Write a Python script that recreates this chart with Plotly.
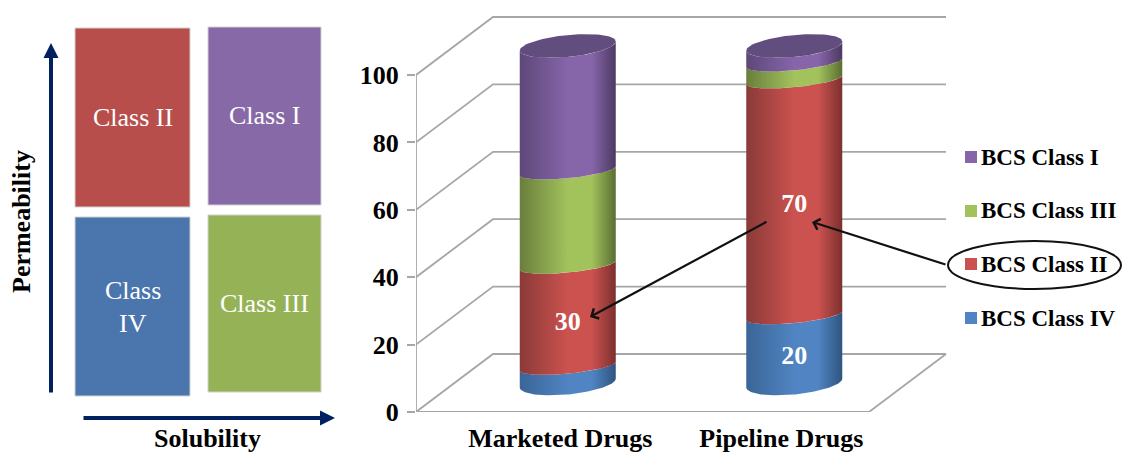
import numpy as np
import plotly.graph_objects as go

W, H = 1122, 453
SERIF = "Liberation Serif"

# Stacked share of each BCS class, bottom to top
categories = ["Marketed Drugs", "Pipeline Drugs"]
class_iv = [5, 20]
class_ii = [30, 70]
class_iii = [28, 5]
class_i = [37, 5]
y_ticks = [0, 20, 40, 60, 80, 100]

series = [
    ("BCS Class IV", class_iv, ["#3a6597", "#5084c2", "#2f5580"], [None, "20"]),
    ("BCS Class II", class_ii, ["#8a3a38", "#cb524f", "#7c302e"], ["30", "70"]),
    ("BCS Class III", class_iii, ["#697e3c", "#a2c25c", "#5a6e33"], [None, None]),
    ("BCS Class I", class_i, ["#5d4878", "#8665a9", "#4c3a62"], [None, None]),
]
legend_order = ["BCS Class I", "BCS Class III", "BCS Class II", "BCS Class IV"]
legend_rows = [157, 211, 264, 318]

# Pixel frame of the front plane of the chart
FRONT_LEFT, FLOOR_Y = 416, 412
X_UNIT, Y_UNIT = 226.5, 3.37
x_top = -0.5 + (W - FRONT_LEFT) / X_UNIT
y_top = FLOOR_Y / Y_UNIT

# Depth of the box and the cylinder ellipses, in axis units
DEPTH_X, DEPTH_Y = 77 / X_UNIT, 58 / Y_UNIT
RX, TILT = 48 / X_UNIT, 4.5 / Y_UNIT
RY_OUTER, RY_INNER, RY_BASE = 11 / Y_UNIT, 7.5 / Y_UNIT, 11.5 / Y_UNIT
LABEL_DROP = 8 / Y_UNIT


def px(x, y):
    return x / W, 1 - y / H


def arc(cx, cy, t0, t1, ry, n=60):
    t = np.linspace(t0, t1, n)
    return cx + RX * np.cos(t), cy + TILT * np.cos(t) + ry * np.sin(t)


fig = go.Figure()

# Box floor and gridlines on the side and back walls
wall_x, wall_y = [], []
for v in y_ticks:
    wall_x += [-0.5, -0.5 + DEPTH_X, 1.5 + DEPTH_X, None]
    wall_y += [v, v + DEPTH_Y, v + DEPTH_Y, None]
wall_x += [-0.5, -0.5, None, -0.5, 1.5, 1.5 + DEPTH_X]
wall_y += [0, 100, None, 0, 0, DEPTH_Y]
fig.add_trace(go.Scatter(x=wall_x, y=wall_y, mode="lines", hoverinfo="skip", showlegend=False,
                         line=dict(color="#a6a6a6", width=1.8)))

# Stacked cylinders: each segment is closed by two front arcs
for i, name in enumerate(categories):
    cx = i + DEPTH_X / 2
    base = DEPTH_Y / 2
    level = 0
    for label, values, shades, notes in series:
        lower, upper = level, level + values[i]
        xa, ya = arc(cx, base + lower, np.pi, 2 * np.pi, RY_BASE if lower == 0 else RY_INNER)
        xb, yb = arc(cx, base + upper, 2 * np.pi, np.pi, RY_OUTER if upper >= 100 else RY_INNER)
        fig.add_trace(go.Scatter(
            x=np.r_[xa, xb], y=np.r_[ya, yb], mode="lines", fill="toself", name=label,
            line=dict(width=0), showlegend=False, hoverinfo="name",
            fillgradient=dict(type="horizontal", colorscale=[
                [0, shades[0]], [0.5, shades[1]], [0.75, shades[1]], [1, shades[2]]]),
        ))
        level = upper
    xc, yc = arc(cx, base + level, 0, 2 * np.pi, RY_OUTER, 90)
    fig.add_trace(go.Scatter(x=xc, y=yc, mode="lines", fill="toself", line=dict(width=0),
                             fillcolor="#624d7f", hoverinfo="skip", showlegend=False))

# Value labels sit on the front face of their segment
label_x, label_y, label_text = [], [], []
for i in range(len(categories)):
    level = 0
    for label, values, shades, notes in series:
        if notes[i]:
            label_x.append(i + DEPTH_X / 2)
            label_y.append(DEPTH_Y / 2 + level + values[i] / 2 - LABEL_DROP)
            label_text.append(notes[i])
        level += values[i]
fig.add_trace(go.Scatter(x=label_x, y=label_y, text=label_text, mode="text", hoverinfo="skip",
                         showlegend=False, textfont=dict(family=SERIF, size=26, color="white", weight="bold")))

shapes, notes_layer = [], []


def text(x, y, s, size=26, color="black", bold=False, anchor="center", angle=0):
    xp, yp = px(x, y)
    notes_layer.append(dict(
        x=xp, y=yp, xref="paper", yref="paper", text=f"<b>{s}</b>" if bold else s, showarrow=False,
        xanchor=anchor, yanchor="middle", textangle=angle, font=dict(family=SERIF, size=size, color=color)))


def arrow(x0, y0, x1, y1, color, width, head, scale=1.0):
    xb, yb = px(x1, y1)
    notes_layer.append(dict(
        x=xb, y=yb, ax=x0 - x1, ay=y0 - y1, xref="paper", yref="paper", axref="pixel", ayref="pixel", text="",
        showarrow=True, arrowcolor=color, arrowwidth=width, arrowhead=head, arrowsize=scale))


# BCS quadrant diagram on the left
quadrants = [
    (75, 28, 190, 207, "#b84e4b", ["Class II"], [117]),
    (208, 27, 321, 205, "#8869a8", ["Class I"], [116]),
    (75, 217, 190, 396, "#4a76ad", ["Class", "IV"], [290, 323]),
    (208, 215, 321, 392, "#95b356", ["Class III"], [303]),
]
for x0, y0, x1, y1, color, lines, rows in quadrants:
    xa, ya = px(x0, y1)
    xb, yb = px(x1, y0)
    shapes.append(dict(type="rect", xref="paper", yref="paper", x0=xa, y0=ya, x1=xb, y1=yb,
                       fillcolor=color, line=dict(color="#d0d0d0", width=1)))
    for line, row in zip(lines, rows):
        text((x0 + x1) / 2, row, line, color="white")

arrow(51, 394, 51, 43, "#002060", 4, 2, 0.75)
arrow(82, 418, 335, 418, "#002060", 4, 2, 0.75)
text(21, 222, "Permeability", bold=True, angle=-90)
text(207, 438, "Solubility", bold=True)

# Legend, with the Class II row ringed
colors = {label: shades[1] for label, _, shades, _ in series}
for label, row in zip(legend_order, legend_rows):
    xa, ya = px(965, row + 6)
    xb, yb = px(977, row - 6)
    shapes.append(dict(type="rect", xref="paper", yref="paper", x0=xa, y0=ya, x1=xb, y1=yb,
                       fillcolor=colors[label], line=dict(width=0)))
    text(979, row, label, size=23, bold=True, anchor="left")
xa, ya = px(948, 289)
xb, yb = px(1121, 241)
shapes.append(dict(type="circle", xref="paper", yref="paper", x0=xa, y0=ya, x1=xb, y1=yb,
                   line=dict(color="#111111", width=2)))

# Callouts tying the legend entry to both Class II segments
arrow(768, 221, 590, 317, "#111111", 2.2, 4, 1.0)
arrow(947, 265, 812, 222, "#111111", 2.2, 4, 1.0)

fig.update_layout(
    width=W, height=H, autosize=False, margin=dict(l=0, r=0, t=0, b=0, autoexpand=False),
    paper_bgcolor="white", plot_bgcolor="white", showlegend=False,
    shapes=shapes, annotations=notes_layer,
    xaxis=dict(domain=[FRONT_LEFT / W, 1], range=[-0.5, x_top], showgrid=False, zeroline=False,
               automargin=False, showline=False, ticks="", tickmode="array", tickvals=[0.137, 1.113],
               ticktext=categories, ticklabelstandoff=8,
               tickfont=dict(family=SERIF, size=26, color="black", weight="bold")),
    yaxis=dict(domain=[1 - FLOOR_Y / H, 1], range=[0, y_top], showgrid=False, zeroline=False,
               automargin=False, showline=False, ticks="outside", ticklen=8, tickwidth=1.8,
               tickcolor="#a6a6a6", tickmode="array", tickvals=y_ticks, ticklabelstandoff=3,
               tickfont=dict(family=SERIF, size=26, color="black", weight="bold")),
)

fig.write_html("out.html", config=dict(displayModeBar=False, responsive=False),
               default_width=W, default_height=H)
